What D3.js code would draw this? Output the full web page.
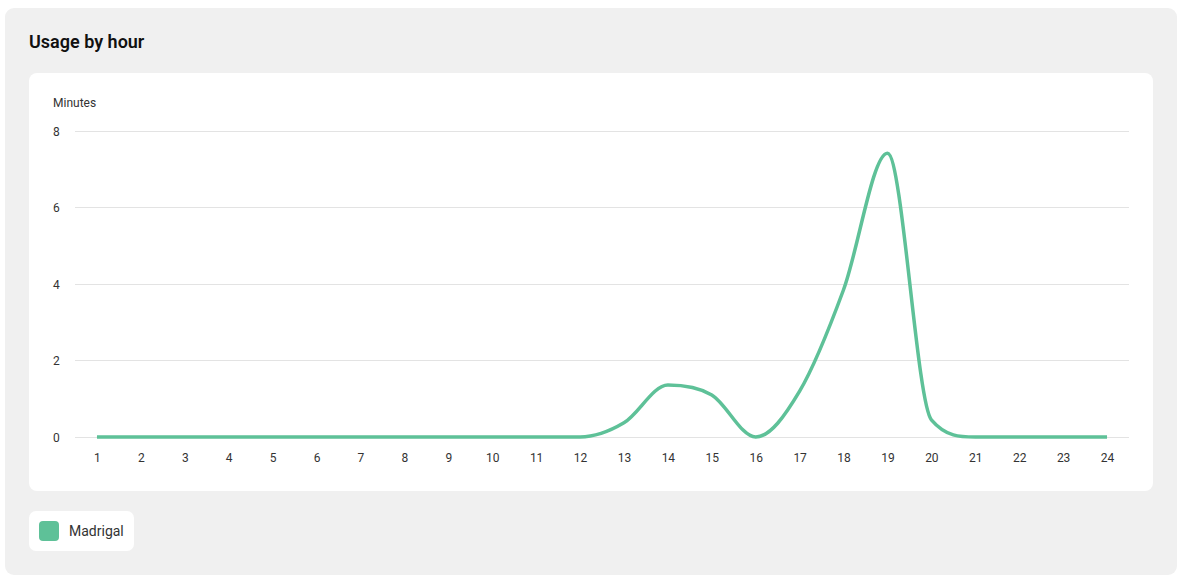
<!DOCTYPE html>
<html><head><meta charset="utf-8">
<script src="https://cdn.jsdelivr.net/npm/d3@7"></script>
<style>
html,body{margin:0;padding:0;background:#fff;font-family:Roboto,"Noto Sans",sans-serif;}
</style></head>
<body>
<svg id="c" width="1185" height="580"></svg>
<script>
const hours = ["1","2","3","4","5","6","7","8","9","10","11","12","13","14","15","16","17","18","19","20","21","22","23","24"];
const minutes = [0,0,0,0,0,0,0,0,0,0,0,0,0.37,1.36,1.1,0,1.2,3.85,7.42,0.45,0,0,0,0];
const yTicks = [0,2,4,6,8];
const seriesName = "Madrigal";
const color = "#5ec198";

const svg = d3.select("#c");
svg.append("rect").attr("x",5).attr("y",8).attr("width",1172).attr("height",567).attr("rx",9).attr("fill","#f0f0f0");
svg.append("text").attr("x",29).attr("y",48).attr("font-size",18).attr("font-weight",600).attr("fill","#111").text("Usage by hour");
svg.append("rect").attr("x",29).attr("y",73).attr("width",1124).attr("height",418).attr("rx",8).attr("fill","#fff");
svg.append("text").attr("x",53).attr("y",107).attr("font-size",12).attr("fill","#333").text("Minutes");

const x = d3.scalePoint().domain(hours).range([75,1129]).padding(0.5);
const y = d3.scaleLinear().domain([0,8]).range([437,131]);

const g = svg.append("g");
g.selectAll("line.grid").data(yTicks).join("line").attr("class","grid")
 .attr("x1",75).attr("x2",1129).attr("y1",d=>y(d)).attr("y2",d=>y(d))
 .attr("stroke","#e3e3e3").attr("stroke-width",1).attr("shape-rendering","crispEdges");
g.selectAll("text.yt").data(yTicks).join("text").attr("class","yt")
 .attr("x",53).attr("y",d=>y(d)+4.5).attr("font-size",12).attr("fill","#333").text(d=>d);

const xa = svg.append("g").attr("transform","translate(0,437)")
 .call(d3.axisBottom(x).tickSize(0).tickPadding(16));
xa.select(".domain").remove();
xa.selectAll("text").attr("font-size",12).attr("fill","#333").attr("font-family","Roboto,sans-serif");

// Fritsch–Carlson monotone cubic (arithmetic-mean tangents)
const pts = minutes.map((v,i)=>({x:x(hours[i]), y:y(v)}));
const n = pts.length;
const dk = [], mk = [];
for (let i=0;i<n-1;i++) dk[i] = (pts[i+1].y-pts[i].y)/(pts[i+1].x-pts[i].x);
for (let i=0;i<n;i++){
  if (i===0) mk[i]=dk[0];
  else if (i===n-1) mk[i]=dk[n-2];
  else mk[i] = (dk[i-1]*dk[i] <= 0) ? 0 : (dk[i-1]+dk[i])/2;
}
for (let i=0;i<n-1;i++){
  if (Math.abs(dk[i]) < 1e-9){ mk[i]=0; mk[i+1]=0; continue; }
  const a = mk[i]/dk[i], b = mk[i+1]/dk[i], s = a*a+b*b;
  if (s > 9){ const t = 3/Math.sqrt(s); mk[i]=a*t*dk[i]; mk[i+1]=b*t*dk[i]; }
}
const path = d3.path();
path.moveTo(pts[0].x, pts[0].y);
for (let i=1;i<n;i++){
  const a = pts[i-1], b = pts[i], dx = (b.x-a.x)/3;
  path.bezierCurveTo(a.x+dx, a.y+mk[i-1]*dx, b.x-dx, b.y-mk[i]*dx, b.x, b.y);
}
svg.append("path").attr("d",path.toString()).attr("fill","none").attr("stroke",color).attr("stroke-width",3.5).attr("stroke-linejoin","round");

svg.append("rect").attr("x",29).attr("y",511).attr("width",105).attr("height",40).attr("rx",7).attr("fill","#fff");
svg.append("rect").attr("x",39).attr("y",521).attr("width",20).attr("height",20).attr("rx",4).attr("fill",color);
svg.append("text").attr("x",69).attr("y",535.5).attr("font-size",14).attr("fill","#333").text(seriesName);
</script>
</body></html>
